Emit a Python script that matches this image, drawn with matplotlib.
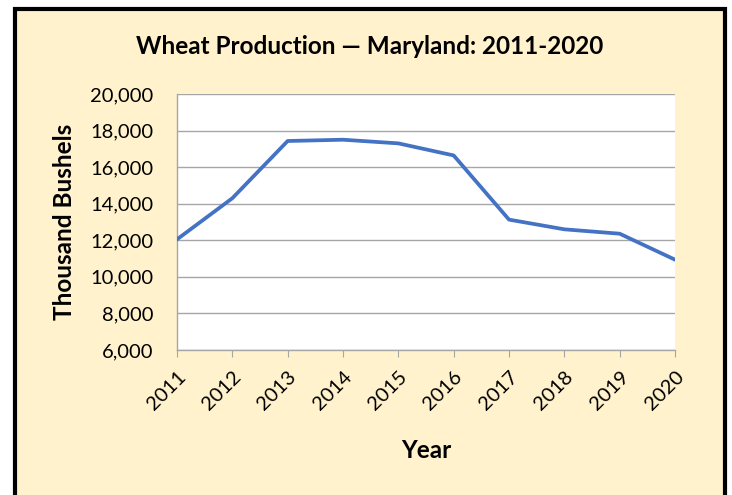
import matplotlib
matplotlib.use("Agg")
import matplotlib.pyplot as plt
from matplotlib.patches import Rectangle
from matplotlib.ticker import FuncFormatter

years = ["2011", "2012", "2013", "2014", "2015", "2016", "2017", "2018", "2019", "2020"]
production = [12050, 14300, 17430, 17500, 17300, 16640, 13130, 12600, 12360, 10940]
yticks = [6000, 8000, 10000, 12000, 14000, 16000, 18000, 20000]

plt.rcParams['font.family'] = ['Lato', 'DejaVu Sans']

W, H = 732, 495
fig = plt.figure(figsize=(W / 100, H / 100), dpi=100)
fig.patch.set_facecolor('white')

# chart area background + black frame
bg = Rectangle((14.5 / W, -0.05), (724.5 - 14.5) / W, (H - 8.5) / H + 0.05,
               transform=fig.transFigure, facecolor='#FFF2CC',
               edgecolor='black', linewidth=3, zorder=-10)
fig.patches.append(bg)

ax = fig.add_axes([177 / W, (H - 350) / H, (675 - 177) / W, (350 - 94) / H])
ax.set_facecolor('white')

x = list(range(len(years)))
ax.plot(x, production, color='#4472C4', linewidth=2.7, solid_capstyle='round', zorder=3)

ax.set_xlim(0, len(years) - 1)
ax.set_ylim(6000, 20000)
ax.set_yticks(yticks)
ax.yaxis.set_major_formatter(FuncFormatter(lambda v, p: f"{int(v):,}"))
ax.grid(axis='y', color='#A6A6A6', linewidth=1)
ax.set_axisbelow(True)

for s in ['top', 'right']:
    ax.spines[s].set_visible(False)
ax.spines['left'].set_color('#A6A6A6')
ax.spines['bottom'].set_color('#A6A6A6')
ax.spines['left'].set_linewidth(1)
ax.spines['bottom'].set_linewidth(1)

ax.set_xticks(x)
ax.set_xticklabels(years, rotation=45, ha='right', rotation_mode='anchor', fontsize=14.5)
ax.tick_params(axis='x', length=5, color='#A6A6A6', pad=8)
ax.tick_params(axis='y', length=0, pad=17, labelsize=14.5)

ax.set_ylabel('Thousand Bushels', fontsize=17.5, fontweight='bold')
ax.yaxis.set_label_coords(-112 / (675 - 177), 0.5)
ax.set_xlabel('Year', fontsize=17.5, fontweight='bold')
ax.xaxis.set_label_coords(0.5, -(450 - 350) / (350 - 94))
ax.xaxis.label.set_va('center')
ax.yaxis.label.set_va('center')

fig.text(370 / W, 1 - 47 / H, 'Wheat Production \u2014 Maryland: 2011-2020',
         ha='center', va='center', fontsize=17.5, fontweight='bold')

fig.savefig('out.png', dpi=100)
